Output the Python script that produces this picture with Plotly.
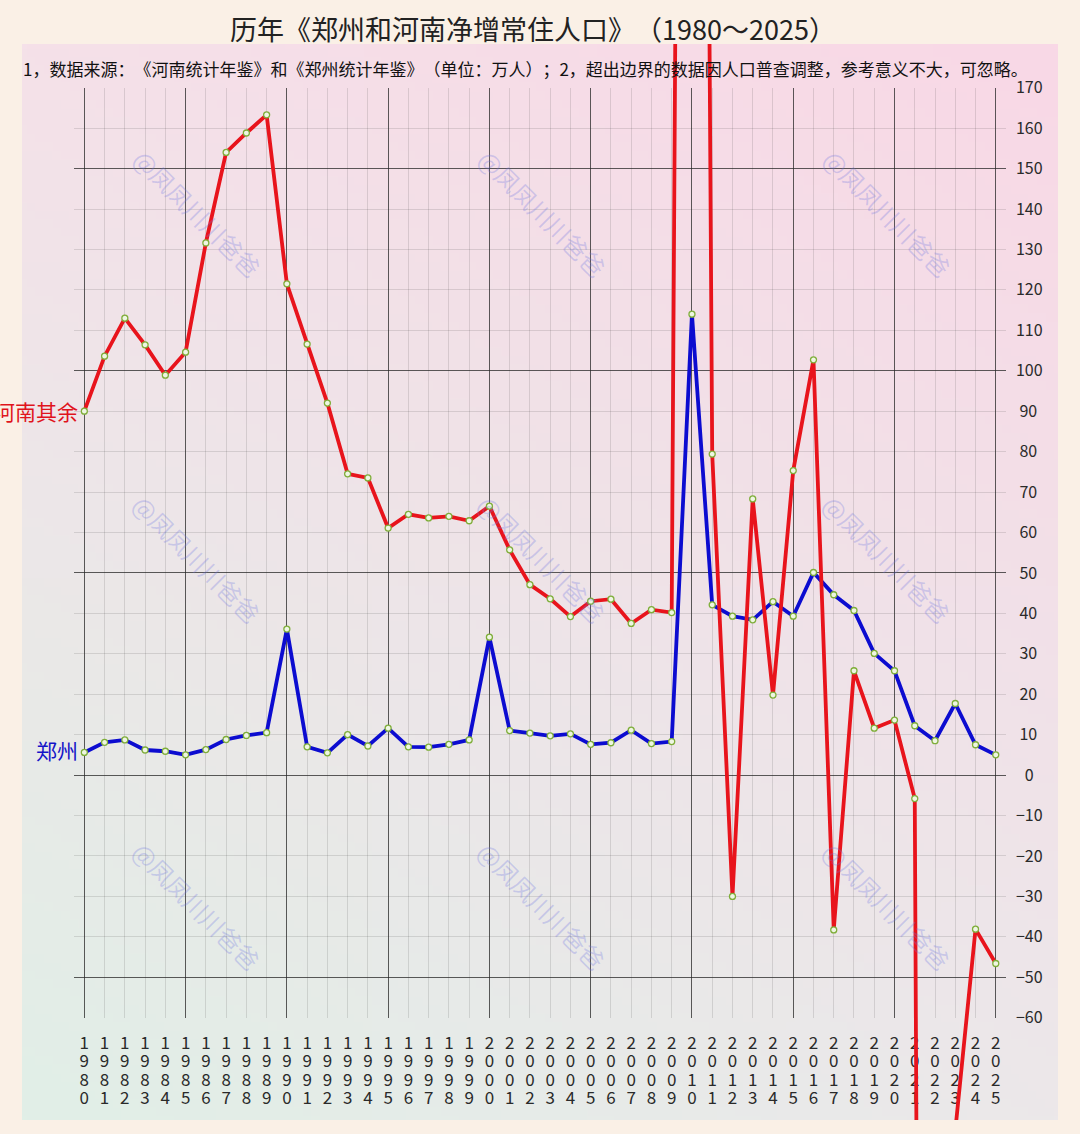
import base64
import struct
import zlib

import numpy as np
import plotly.graph_objects as go

# ---------------- data ----------------
years = list(range(1980, 2026))
zhengzhou = [5.6, 8.1, 8.7, 6.2, 5.9, 5.0, 6.3, 8.8, 9.8, 10.5,
             36.1, 7.0, 5.5, 10.0, 7.2, 11.6, 7.0, 6.9, 7.6, 8.7,
             34.1, 11.0, 10.4, 9.7, 10.2, 7.6, 8.0, 11.1, 7.8, 8.3,
             114.0, 42.1, 39.3, 38.4, 42.9, 39.3, 50.1, 44.6, 40.7, 30.1,
             25.8, 12.2, 8.5, 17.7, 7.5, 5.0]
henan_rest = [90.0, 103.6, 113.0, 106.4, 98.9, 104.6, 131.6, 154.0, 158.8, 163.3,
              121.5, 106.6, 92.0, 74.5, 73.5, 61.1, 64.5, 63.6, 64.0, 62.9,
              66.5, 55.7, 47.1, 43.6, 39.2, 43.0, 43.5, 37.5, 40.9, 40.2,
              850.0, 79.4, -30.0, 68.3, 19.8, 75.3, 102.7, -38.3, 25.8, 11.6,
              13.6, -5.8, -1000.0, -88.0, -38.1, -46.6]
y_ticks = list(range(-60, 171, 10))
series_names = ["河南其余", "郑州"]
ZW = "\u200b"
title_text = "历年《郑州和河南净增常住人口》" + ZW + "（1980～2025）"
note_text = ("1，数据来源：" + ZW + "《河南统计年鉴》和《郑州统计年鉴》" + ZW + "（单位：万人）" + ZW + "；"
             "2，超出边界的数据因人口普查调整，参考意义不大，可忽略。")
watermark_text = "@凤凤川川爸爸"

# ---------------- geometry (pixels) ----------------
W, H = 1080, 1134
FONT = "Noto Sans CJK SC, Noto Sans, sans-serif"
x_left_px, x_right_px = 74.2, 1005.9          # plot x extent (1979.5 .. 2025.5)
y_top_px, y_bot_px = 87.7, 1017.7             # 170 .. -60
panel = dict(l=22, r=1058, t=44, b=1120)
ppu = (y_bot_px - y_top_px) / 230.0
zero_px = y_top_px + 170 * ppu


def fx(px):
    return px / W


def fy(py):
    return 1 - py / H


x_dom = [fx(x_left_px), fx(x_right_px)]
y_dom = [fy(y_bot_px), fy(y_top_px)]
y2_dom = [fy(panel["b"]), fy(panel["t"])]
y2_range = [(zero_px - panel["b"]) / ppu, (zero_px - panel["t"]) / ppu]
x_range = [1979.5, 2025.5]


# ---------------- gradient panel image ----------------
def gradient_uri(w=120, h=126):
    tl = np.array([245, 225, 233], float)
    tr = np.array([249, 216, 230], float)
    bl = np.array([225, 239, 231], float)
    br = np.array([236, 232, 234], float)
    u = np.linspace(0, 1, w)[None, :, None]
    v = np.linspace(0, 1, h)[:, None, None]
    arr = (tl * (1 - u) * (1 - v) + tr * u * (1 - v) + bl * (1 - u) * v + br * u * v)
    arr = np.clip(arr, 0, 255).astype(np.uint8)
    raw = b"".join(b"\x00" + arr[i].tobytes() for i in range(h))

    def chunk(t, d):
        return struct.pack(">I", len(d)) + t + d + struct.pack(">I", zlib.crc32(t + d) & 0xFFFFFFFF)

    png = (b"\x89PNG\r\n\x1a\n"
           + chunk(b"IHDR", struct.pack(">IIBBBBB", w, h, 8, 2, 0, 0, 0))
           + chunk(b"IDAT", zlib.compress(raw, 9))
           + chunk(b"IEND", b""))
    return "data:image/png;base64," + base64.b64encode(png).decode()


# ---------------- tick labels ----------------
def ytext(v):
    s = str(abs(v))
    if v < 0:
        return "\u2212" + s
    if len(s) == 1:
        return "\u2007" + s
    if len(s) == 2:
        return "\u00a0" + s
    return s


y_ticktext = [ytext(v) for v in y_ticks]
digit_rows = [[str(y)[i] for y in years] for i in range(4)]

marker_style = dict(size=6, color="#eef6e2", line=dict(color="#7fae3a", width=1.3))

fig = go.Figure()

# dummy traces to instantiate overlay axes
for xa, ya in [("x3", "y"), ("x", "y3"), ("x4", "y"), ("x5", "y"), ("x6", "y")]:
    fig.add_trace(go.Scatter(x=[years[0]], y=[None], xaxis=xa, yaxis=ya, mode="markers",
                             marker=dict(opacity=0), showlegend=False, hoverinfo="skip"))

fig.add_trace(go.Scatter(
    x=years, y=zhengzhou, name=series_names[1], mode="lines+markers",
    line=dict(color="#0c0cd0", width=3.8), marker=marker_style,
    xaxis="x", yaxis="y", showlegend=False))

fig.add_trace(go.Scatter(
    x=years, y=henan_rest, name=series_names[0], mode="lines+markers",
    line=dict(color="#e8141c", width=3.8), marker=marker_style,
    xaxis="x2", yaxis="y2", showlegend=False, cliponaxis=True))

light_grid = "rgba(60,60,60,0.15)"
dark_grid = "rgba(40,40,40,0.72)"
tick_font = dict(family=FONT, size=17, color="#2a2a2a")

common_x = dict(domain=x_dom, range=x_range, zeroline=False, showline=False, ticks="",
                fixedrange=True, automargin=False)
row_gap = 18.4
row0 = 13


def standoff(i):
    return int(round(row0 + i * row_gap))


layout = dict(
    width=W, height=H, margin=dict(l=0, r=0, t=0, b=0, pad=0, autoexpand=False),
    paper_bgcolor="#faf0e6", plot_bgcolor="rgba(0,0,0,0)",
    showlegend=False,
    xaxis=dict(**common_x, anchor="y", tickmode="array", tickvals=years, ticktext=digit_rows[0],
               tickangle=0, tickfont=tick_font, showgrid=True, gridcolor=light_grid, gridwidth=1,
               ticklabelstandoff=standoff(0)),
    xaxis3=dict(**common_x, anchor="y", overlaying="x", tickmode="array",
                tickvals=years[::5], showticklabels=False, showgrid=True,
                gridcolor=dark_grid, gridwidth=1),
    xaxis4=dict(**common_x, anchor="y", overlaying="x", tickmode="array", tickvals=years,
                ticktext=digit_rows[1], tickangle=0, tickfont=tick_font, showgrid=False,
                ticklabelstandoff=standoff(1)),
    xaxis5=dict(**common_x, anchor="y", overlaying="x", tickmode="array", tickvals=years,
                ticktext=digit_rows[2], tickangle=0, tickfont=tick_font, showgrid=False,
                ticklabelstandoff=standoff(2)),
    xaxis6=dict(**common_x, anchor="y", overlaying="x", tickmode="array", tickvals=years,
                ticktext=digit_rows[3], tickangle=0, tickfont=tick_font, showgrid=False,
                ticklabelstandoff=standoff(3)),
    yaxis=dict(domain=y_dom, range=[-60, 170], anchor="x", side="right", tickmode="array",
               tickvals=y_ticks, ticktext=y_ticktext, tickfont=dict(family=FONT, size=16, color="#2a2a2a"),
               showgrid=True, gridcolor=light_grid, gridwidth=1, zeroline=False, showline=False,
               ticks="", ticklabelstandoff=9, fixedrange=True, automargin=False),
    yaxis3=dict(domain=y_dom, range=[-60, 170], anchor="x", overlaying="y", side="right",
                tickmode="array", tickvals=[-50, 0, 50, 100, 150], showticklabels=False,
                showgrid=True, gridcolor=dark_grid, gridwidth=1, zeroline=False, showline=False,
                ticks="", fixedrange=True, automargin=False),
    xaxis2=dict(domain=x_dom, range=x_range, anchor="y2", visible=False, fixedrange=True),
    yaxis2=dict(domain=y2_dom, range=y2_range, anchor="x2", visible=False, fixedrange=True),
    images=[dict(source=gradient_uri(), xref="paper", yref="paper",
                 x=fx(panel["l"]), y=fy(panel["t"]),
                 sizex=fx(panel["r"] - panel["l"]), sizey=(panel["b"] - panel["t"]) / H,
                 sizing="stretch", xanchor="left", yanchor="top", layer="below")],
)
fig.update_layout(**layout)

annotations = [
    dict(text=title_text, xref="paper", yref="paper", x=fx(533), y=fy(28),
         xanchor="center", yanchor="middle", showarrow=False,
         font=dict(family=FONT, size=27, color="#222222")),
    dict(text=note_text, xref="paper", yref="paper", x=fx(21), y=fy(68),
         xanchor="left", yanchor="middle", showarrow=False,
         font=dict(family=FONT, size=17, color="#111111")),
    dict(text=series_names[0], xref="x", yref="y", x=years[0], y=henan_rest[0],
         xanchor="right", yanchor="middle", xshift=-4, showarrow=False,
         font=dict(family=FONT, size=21, color="#e0141c")),
    dict(text=series_names[1], xref="x", yref="y", x=years[0], y=zhengzhou[0],
         xanchor="right", yanchor="middle", xshift=-4, yshift=2, showarrow=False,
         font=dict(family=FONT, size=21, color="#1414c8")),
]
for cy in (213, 558, 905):
    for cx in (197, 542, 887):
        annotations.append(dict(
            text=watermark_text, xref="paper", yref="paper", x=fx(cx), y=fy(cy),
            xanchor="center", yanchor="middle", showarrow=False, textangle=45,
            font=dict(family=FONT, size=24, color="rgba(110,118,225,0.28)")))
fig.update_layout(annotations=annotations)

fig.write_html("out.html")
